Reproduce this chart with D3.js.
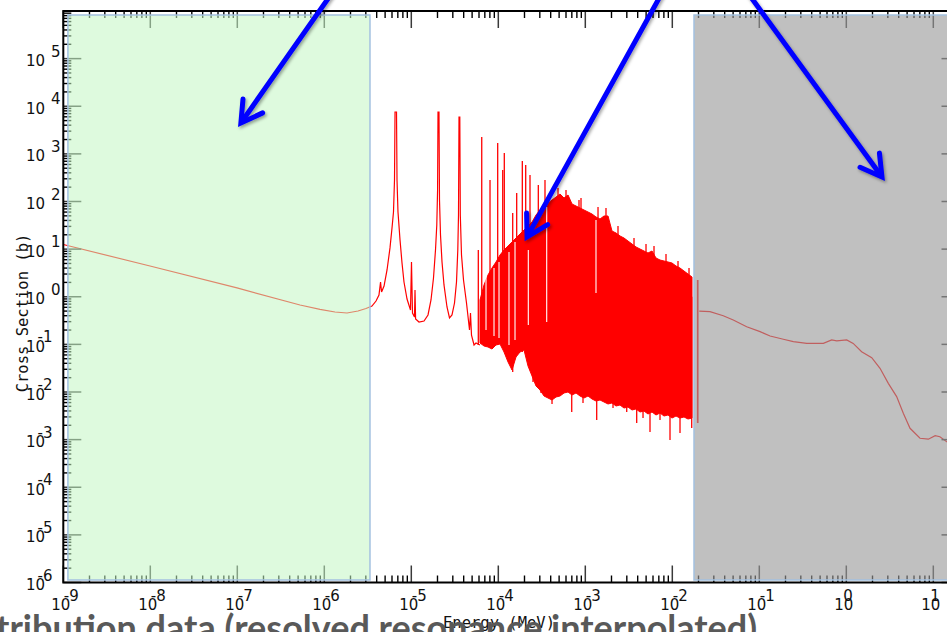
<!DOCTYPE html>
<html>
<head>
<meta charset="utf-8">
<script src="https://cdn.jsdelivr.net/npm/d3@7"></script>
<style>
  html, body { margin: 0; padding: 0; background: #fff; overflow: hidden; }
  svg { display: block; }
</style>
</head>
<body>
<svg id="chart" width="947" height="632"></svg>
<script>
// U-238 (n,gamma) cross section. Energies in MeV, cross sections in barns.

// Thermal / 1/v part
const thermalEnergy = [1e-9, 9.92e-9, 9.92e-8, 5.26e-7, 8.93e-7, 1.327e-6, 1.823e-6, 2.44e-6, 3.015e-6];
const thermalSigma  = [12.5, 4.42, 1.53, 0.671, 0.545, 0.478, 0.456, 0.502, 0.567];

// Low-lying resolved resonances (6.7, 10.2, 20.9, 36.7 eV ...)
const resolvedEnergy = [
  3.53e-6, 3.93e-6, 4.25e-6, 4.43e-6, 4.55e-6, 4.86e-6, 5.26e-6, 5.69e-6, 6.00e-6, 6.24e-6,
  6.41e-6, 6.50e-6, 6.76e-6, 6.85e-6, 7.03e-6, 7.42e-6, 7.82e-6, 8.24e-6, 8.93e-6, 9.79e-6,
  1.005e-5, 1.032e-5, 1.088e-5, 1.103e-5, 1.120e-5, 1.226e-5, 1.400e-5, 1.556e-5, 1.684e-5, 1.799e-5,
  1.897e-5, 1.963e-5, 2.005e-5, 2.027e-5, 2.081e-5, 2.109e-5, 2.166e-5, 2.254e-5, 2.376e-5, 2.572e-5,
  2.748e-5, 2.936e-5, 3.137e-5, 3.307e-5, 3.423e-5, 3.487e-5, 3.534e-5, 3.610e-5, 3.658e-5, 3.776e-5,
  3.981e-5, 4.310e-5, 4.667e-5, 4.79e-5, 4.92e-5, 5.26e-5, 5.54e-5, 6.16e-5
];
const resolvedSigma = [
  0.639, 0.814, 1.09, 2.04, 1.26, 1.68, 3.65, 10.6, 27.8, 60.2,
  283, 7570, 7570, 283, 60.2, 15.5, 5.11, 2.04, 0.897, 0.527,
  5.37, 0.456, 0.376, 1.39, 0.341, 0.295, 0.310, 0.414, 0.855, 2.48,
  9.59, 32.1, 174, 7570, 7570, 108, 19.8, 5.37, 1.77, 0.609,
  0.358, 0.414, 0.739, 2.04, 9.59, 52.1, 5950, 5950, 52.1, 7.53,
  2.25, 0.739, 0.200, 0.456, 0.157, 0.097, 0.107, 0.097
];

// Densely packed resonances: upper and lower envelope
const denseEnergy = [
  6.16e-5, 6.85e-5, 7.61e-5, 8.46e-5, 9.41e-5, 1.046e-4, 1.163e-4, 1.293e-4, 1.437e-4, 1.598e-4,
  1.776e-4, 1.975e-4, 2.195e-4, 2.441e-4, 2.713e-4, 3.016e-4, 3.353e-4, 3.728e-4, 4.144e-4, 4.607e-4,
  5.122e-4, 5.694e-4, 6.330e-4, 7.037e-4, 7.823e-4, 8.697e-4, 9.662e-4, 1.074e-3, 1.194e-3, 1.327e-3,
  1.476e-3, 1.640e-3, 1.824e-3, 2.027e-3, 2.254e-3, 2.505e-3, 2.785e-3, 3.096e-3, 3.442e-3, 3.827e-3,
  4.254e-3, 4.729e-3, 5.257e-3, 5.845e-3, 6.497e-3, 7.223e-3, 8.029e-3, 8.926e-3, 9.921e-3, 1.103e-2,
  1.226e-2, 1.363e-2, 1.515e-2, 1.684e-2
];
const denseUpper = [
  0.855, 1.765, 2.862, 4.01, 5.37, 7.53, 9.59, 11.6, 14.11, 17.1,
  20.8, 25.2, 30.6, 37.1, 52.1, 66.3, 84.4, 93.0, 107.5, 124.3,
  143.7, 118.4, 136.9, 88.6, 80.4, 73.0, 66.3, 60.2, 54.6, 47.3,
  42.9, 49.6, 49.6, 24.0, 21.8, 18.9, 17.1, 14.8, 12.8, 11.1,
  10.06, 9.13, 8.29, 9.13, 6.51, 5.91, 5.63, 5.37, 5.11, 4.42,
  4.01, 3.47, 3.00, 2.60
];
const denseLower = [
  0.1069, 0.0924, 0.0881, 0.0799, 0.0970, 0.1018, 0.0692, 0.0427, 0.0290, 0.0543,
  0.0692, 0.0762, 0.0352, 0.0217, 0.01336, 0.01101, 0.00824, 0.00748, 0.00679, 0.00785,
  0.00824, 0.00953, 0.0100, 0.00865, 0.00953, 0.00824, 0.00748, 0.00824, 0.00713, 0.00647,
  0.00679, 0.00617, 0.00560, 0.00588, 0.00508, 0.00533, 0.00461, 0.00484, 0.00419, 0.00440,
  0.00380, 0.00399, 0.00345, 0.00380, 0.00329, 0.00362, 0.00313, 0.00329, 0.00284, 0.00313,
  0.00284, 0.00299, 0.00271, 0.00284
];

// Individual peaks and dips reaching outside the envelope
const spikeEnergy = [
  5.89e-5, 6.45e-5, 8.03e-5, 9.84e-5, 1.124e-4, 1.172e-4, 1.464e-4, 1.627e-4, 1.888e-4, 2.065e-4,
  2.314e-4, 2.883e-4, 3.441e-4, 4.11e-4, 8.925e-4,
  4.857e-4, 6.00e-4, 8.46e-4, 1.400e-3, 1.729e-3, 2.376e-3, 3.629e-3, 4.986e-3, 6.161e-3, 8.464e-3,
  1.163e-2, 1.556e-2,
  2.505e-4, 3.096e-4, 4.144e-4, 6.981e-4, 9.409e-4, 1.352e-3, 2.082e-3, 2.992e-3, 3.897e-3, 4.607e-3,
  5.542e-3, 7.223e-3, 9.41e-3, 1.226e-2, 1.671e-2,
  1.949e-2, 1.965e-2
];
const spikeTop = [
  9.59, 2260, 283, 1690, 458, 1043, 57.3, 151, 709, 584,
  360, 222, 283, 107.5, 118,
  192, 174, 107.5, 76.6, 73.0, 30.6, 17.1, 12.8, 11.6, 7.90,
  5.63, 4.01,
  1, 1, 1, 1, 1, 1, 1, 1, 1, 1,
  1, 1, 1, 1, 1,
  2.25, 2.25
];
const spikeBottom = [
  0.097, 0.2, 0.0839, 0.097, 0.097, 0.097, 0.0263, 0.0598, 0.0692, 0.0692,
  0.029, 0.014, 0.00865, 0.00748, 0.0082,
  1, 1, 1, 1, 1, 1, 1, 1, 1, 1,
  1, 1,
  0.01622, 0.00953, 0.00560, 0.00380, 0.00588, 0.00258, 0.00461, 0.00380, 0.00223, 0.00284,
  0.001446, 0.00258, 0.00098, 0.00138, 0.001754,
  0.00223, 0.00223
];

// Narrow openings between neighbouring resonances
const gapEnergy = [7.223e-5, 8.926e-5, 1.019e-4, 1.327e-4, 1.556e-4, 2.212e-4, 3.60e-4, 1.327e-3];
const gapTop = [3.31, 4.01, 5.37, 8.70, 14.11, 9.59, 76.6, 40.9];
const gapBottom = [0.200, 0.150, 0.136, 0.097, 0.1235, 0.255, 0.295, 1.2];

// Smooth unresolved / fast part
const fastEnergy = [0.0204, 0.0271, 0.0385, 0.0502, 0.0716, 0.102, 0.133, 0.189, 0.246, 0.351,
  0.545, 0.679, 0.776, 1.01, 1.20, 1.50, 1.96, 2.44, 3.04, 3.79,
  4.52, 5.40, 7.03, 8.77, 10.5, 11.9, 14.3, 20];
const fastSigma = [0.50, 0.485, 0.40, 0.325, 0.235, 0.185, 0.150, 0.128, 0.114, 0.105,
  0.105, 0.124, 0.119, 0.124, 0.105, 0.070, 0.0525, 0.0315, 0.0152, 0.0080,
  0.00357, 0.00173, 0.00107, 0.00102, 0.00121, 0.00115, 0.00090, 0.0007];

// Axis decades
const xTickExponents = [-9, -8, -7, -6, -5, -4, -3, -2, -1, 0, 1];
const yTickExponents = [5, 4, 3, 2, 1, 0, -1, -2, -3, -4, -5, -6];

// Highlighted energy ranges
const thermalRange = [1.13e-9, 3.35e-6];
const fastRange = [1.776e-2, 20];

// Pointers: [energy, cross section] of tip and tail
const arrowTips  = [[1.10e-7, 4450], [2.14e-4, 18.0], [2.57, 327]];
const arrowTails = [[1.345e-6, 3.04e6], [8.18e-3, 3.04e6], [0.0671, 3.04e6]];

const caption = "tribution data (resolved resonance interpolated)";

// ---------------------------------------------------------------
const svg = d3.select("#chart");
const x = d3.scaleLog().domain([1e-9, 20]).range([63.3, 959.5]);
const y = d3.scaleLog().domain([1e-6, 1e6]).range([582.5, 11]);

const defs = svg.append("defs");
defs.append("clipPath").attr("id", "plotClip")
  .append("rect").attr("x", x.range()[0]).attr("y", y.range()[1])
  .attr("width", x.range()[1] - x.range()[0]).attr("height", y.range()[0] - y.range()[1]);
const shadow = defs.append("filter").attr("id", "arrowShadow")
  .attr("x", "-30%").attr("y", "-30%").attr("width", "160%").attr("height", "160%");
shadow.append("feDropShadow").attr("dx", 1.5).attr("dy", 2).attr("stdDeviation", 1.4)
  .attr("flood-color", "#000").attr("flood-opacity", 0.35);

const plot = svg.append("g").attr("clip-path", "url(#plotClip)");
const RED = "#ff0000";

// continuous low-energy curve
const lowPts = thermalEnergy.map((e, i) => [e, thermalSigma[i]])
  .concat(resolvedEnergy.map((e, i) => [e, resolvedSigma[i]]));
const line = d3.line().x(d => x(d[0])).y(d => y(d[1]));
plot.append("path").datum(lowPts).attr("d", line)
  .attr("fill", "none").attr("stroke", RED).attr("stroke-width", 1.2);

// dense resonance band
const band = d3.area()
  .x((e) => x(e))
  .y0((e, i) => y(denseLower[i]))
  .y1((e, i) => y(denseUpper[i]));
plot.append("path").datum(denseEnergy).attr("d", band)
  .attr("fill", RED).attr("stroke", RED).attr("stroke-width", 1);

plot.append("g").selectAll("line").data(spikeEnergy).join("line")
  .attr("x1", d => x(d)).attr("x2", d => x(d))
  .attr("y1", (d, i) => y(spikeTop[i])).attr("y2", (d, i) => y(spikeBottom[i]))
  .attr("stroke", RED).attr("stroke-width", 1.3);

plot.append("g").selectAll("line").data(gapEnergy).join("line")
  .attr("x1", d => x(d)).attr("x2", d => x(d))
  .attr("y1", (d, i) => y(gapTop[i])).attr("y2", (d, i) => y(gapBottom[i]))
  .attr("stroke", "#fff").attr("stroke-width", 1.1);

plot.append("path").datum(fastEnergy.map((e, i) => [e, fastSigma[i]])).attr("d", line)
  .attr("fill", "none").attr("stroke", RED).attr("stroke-width", 1.2);

// ---------------------------------------------------------------
// frame and ticks (log decades with 2..9 minors), ticks pointing inward
const axes = svg.append("g");
const [x0, x1] = x.range();
const [yb, yt] = y.range();
const majorX = xTickExponents.map(e => Math.pow(10, e));
const minorX = [];
for (const e of xTickExponents) for (let m = 2; m <= 9; m++) {
  const v = m * Math.pow(10, e); if (v <= 20) minorX.push(v);
}
const majorY = d3.range(-6, 7).map(e => Math.pow(10, e));
const minorY = [];
for (let e = -6; e < 6; e++) for (let m = 2; m <= 9; m++) minorY.push(m * Math.pow(10, e));

const tick = (g, data, attrs, color, w) => g.append("g").selectAll("line").data(data).join("line")
  .each(function (d) { const a = attrs(d); d3.select(this).attr("x1", a[0]).attr("y1", a[1]).attr("x2", a[2]).attr("y2", a[3]); })
  .attr("stroke", color).attr("stroke-width", w);

const MAJ = 17, MIN = 7;
tick(axes, minorX, d => [x(d), yb, x(d), yb - MIN], "#000", 1.4);
tick(axes, minorX, d => [x(d), yt, x(d), yt + MIN], "#000", 1.4);
tick(axes, majorX, d => [x(d), yb, x(d), yb - MAJ], "#3a3a3a", 1.5);
tick(axes, majorX, d => [x(d), yt, x(d), yt + MAJ], "#3a3a3a", 1.5);
tick(axes, minorY, d => [x0, y(d), x0 + MIN + 1, y(d)], "#000", 1.4);
tick(axes, minorY, d => [x1, y(d), x1 - MIN - 1, y(d)], "#000", 1.4);
tick(axes, majorY, d => [x0, y(d), x0 + MAJ + 1, y(d)], "#3a3a3a", 1.5);
tick(axes, majorY, d => [x1, y(d), x1 - MAJ - 1, y(d)], "#3a3a3a", 1.5);

axes.append("rect").attr("x", x0).attr("y", yt).attr("width", x1 - x0).attr("height", yb - yt)
  .attr("fill", "none").attr("stroke", "#000").attr("stroke-width", 2);

// tick labels: "10" with the exponent raised, minus sign over the zero
const lab = svg.append("g").attr("font-family", "DejaVu Sans, sans-serif")
  .attr("font-size", 15).attr("fill", "#111");
xTickExponents.forEach(e => {
  const tx = x(Math.pow(10, e));
  lab.append("text").attr("x", tx - 2.5).attr("y", 610).attr("text-anchor", "middle").text("10");
  lab.append("text").attr("x", e < 0 ? tx + 0.5 : tx - 3).attr("y", 601)
    .text(e < 0 ? "-" + Math.abs(e) : String(e));
});
yTickExponents.forEach(e => {
  const ty = y(Math.pow(10, e));
  lab.append("text").attr("x", 45).attr("y", ty + 7.5).attr("text-anchor", "end").text("10");
  lab.append("text").attr("x", e < 0 ? 37.5 : 51).attr("y", ty - 2)
    .text(e < 0 ? "-" + Math.abs(e) : String(e));
});

const titles = svg.append("g").attr("font-family", "DejaVu Sans Mono, monospace")
  .attr("font-size", 15.5).attr("fill", "#111");
titles.append("text").attr("x", 499).attr("y", 628).attr("text-anchor", "middle").text("Energy (MeV)");
titles.append("text").attr("transform", "translate(28,313) rotate(-90)")
  .attr("text-anchor", "middle").text("Cross Section (b)");

// ---------------------------------------------------------------
// highlighted ranges laid over the plot
const boxTop = yt + 4, boxBottom = yb - 2.5;
const boxes = [
  { r: thermalRange, fill: "rgb(195,246,195)", op: 0.55 },
  { r: fastRange, fill: "rgb(153,153,153)", op: 0.62 }
];
svg.append("g").selectAll("rect").data(boxes).join("rect")
  .attr("x", d => Math.max(x(d.r[0]), x0)).attr("y", boxTop)
  .attr("width", d => x(d.r[1]) - Math.max(x(d.r[0]), x0)).attr("height", boxBottom - boxTop)
  .attr("fill", d => d.fill).attr("fill-opacity", d => d.op)
  .attr("stroke", "#a3c1e0").attr("stroke-width", 1.5);

// ---------------------------------------------------------------
// blue pointers
const arrows = svg.append("g").attr("filter", "url(#arrowShadow)")
  .attr("stroke", "#0000ff").attr("stroke-width", 5).attr("fill", "none");
arrowTips.forEach((tipV, i) => {
  const tip = [x(tipV[0]), y(tipV[1])];
  const tail = [x(arrowTails[i][0]), y(arrowTails[i][1])];
  const dx = tail[0] - tip[0], dy = tail[1] - tip[1];
  const len = Math.hypot(dx, dy), ux = dx / len, uy = dy / len;
  const rot = (a) => [ux * Math.cos(a) - uy * Math.sin(a), ux * Math.sin(a) + uy * Math.cos(a)];
  const L = 24, th = 30 * Math.PI / 180;
  const w1 = rot(th), w2 = rot(-th);
  arrows.append("line")
    .attr("x1", tip[0] + ux * 3).attr("y1", tip[1] + uy * 3)
    .attr("x2", tail[0]).attr("y2", tail[1]).attr("stroke-linecap", "round");
  arrows.append("path")
    .attr("d", `M${tip[0] + w1[0] * L},${tip[1] + w1[1] * L}L${tip[0]},${tip[1]}L${tip[0] + w2[0] * L},${tip[1] + w2[1] * L}`)
    .attr("stroke-linejoin", "miter").attr("stroke-linecap", "round");
});

// caption line running off the bottom edge
svg.append("text").attr("x", -4).attr("y", 641)
  .attr("font-family", "Lato, 'Open Sans', sans-serif").attr("font-weight", "bold")
  .attr("font-size", 36).attr("fill", "#595959").text(caption);
</script>
</body>
</html>
